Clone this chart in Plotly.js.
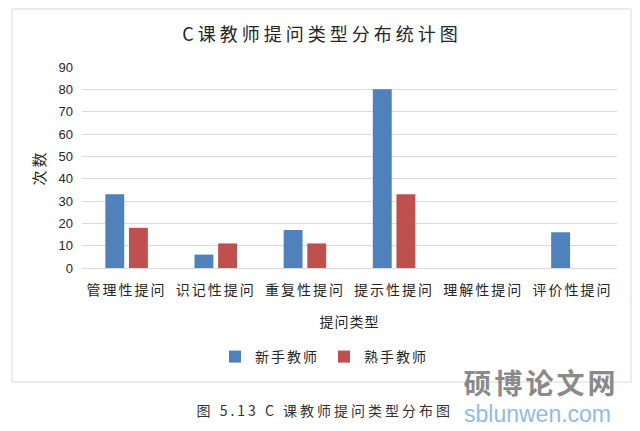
<!DOCTYPE html>
<html><head><meta charset="utf-8">
<script src="https://cdn.plot.ly/plotly-3.0.1.min.js"></script>
<style>
html,body{margin:0;padding:0;background:#fff;}
#chart{width:640px;height:431px;}
.gtitle{letter-spacing:4px;}
.xtick text{letter-spacing:2px;}
.legendtext{letter-spacing:2px;}
.g-xtitle text{letter-spacing:1px;}
.g-ytitle text{letter-spacing:3px;}
g.annotation[data-index="0"] text{letter-spacing:3px;}
g.annotation[data-index="1"] text{letter-spacing:3px;}
</style>
</head><body>
<div id="chart"></div>
<script>
const categories = ["管理性提问","识记性提问","重复性提问","提示性提问","理解性提问","评价性提问"];
const novice = [33, 6, 17, 80, 0, 16];
const expert = [18, 11, 11, 33, 0, 0];
const seriesNames = ["新手教师","熟手教师"];
const yTicks = [0,10,20,30,40,50,60,70,80,90];

const cjk = '"Noto Sans CJK SC", "Noto Sans", sans-serif';
const latin = '"Liberation Sans", Arial, sans-serif';

// plot area in pixels
const L = 82, R = 617, T = 67, B = 268;
const W = R - L, H = B - T;
const px = x => (x - L) / W;
const py = y => (B - y) / H;

const traces = [
  {type:'bar', name:seriesNames[0], x:categories, y:novice,
   marker:{color:'#4F81BD', line:{width:0}}},
  {type:'bar', name:seriesNames[1], x:categories, y:expert,
   marker:{color:'#C0504D', line:{width:0}}}
];

const layout = {
  width:640, height:431,
  margin:{l:L, r:640-R, t:T, b:431-B, pad:0},
  paper_bgcolor:'#fff', plot_bgcolor:'#fff',
  barmode:'group', bargap:0.47, bargroupgap:0.2,
  title:{text:'C课教师提问类型分布统计图', x:0.5+2/640, xanchor:'center', y:1-35/431, yanchor:'middle',
         font:{family:cjk, size:18, color:'#262626'}},
  xaxis:{type:'category', showgrid:false, zeroline:false, showline:false, ticks:'',
         ticklabelstandoff:12,
         tickfont:{family:cjk, size:14, color:'#262626'},
         title:{text:'提问类型', standoff:19, font:{family:cjk, size:14, color:'#262626'}}},
  yaxis:{range:[0,90], tickvals:yTicks, ticktext:yTicks.map(String), showgrid:true, gridcolor:'#D9D9D9', gridwidth:1,
         zeroline:true, zerolinecolor:'#D9D9D9', zerolinewidth:1, showline:false, ticks:'',
         ticklabelstandoff:8,
         tickfont:{family:latin, size:13, color:'#262626'},
         title:{text:'次数', standoff:9, font:{family:cjk, size:15, color:'#262626'}}},
  showlegend:true,
  legend:{orientation:'h', x:px(324), xanchor:'center', y:py(357), yanchor:'middle',
          font:{family:cjk, size:14, color:'#262626'}, itemwidth:30,
          tracegroupgap:0, bgcolor:'rgba(0,0,0,0)'},
  shapes:[
    {type:'rect', xref:'paper', yref:'paper', x0:px(12), x1:px(631), y0:py(382), y1:py(9),
     line:{color:'#D9D9D9', width:1}, fillcolor:'rgba(0,0,0,0)', layer:'below'}
  ],
  annotations:[
    {text:'图 5.13 C 课教师提问类型分布图', xref:'paper', yref:'paper', x:px(325), y:py(410),
     xanchor:'center', yanchor:'middle', showarrow:false,
     font:{family:cjk, size:14, color:'#333'}},
    {text:'<b>硕博论文网</b>', xref:'paper', yref:'paper', x:px(541), y:py(382),
     xanchor:'center', yanchor:'middle', showarrow:false,
     font:{family:cjk, size:28, color:'#8a8a8a'}},
    {text:'sblunwen.com', xref:'paper', yref:'paper', x:px(537), y:py(414),
     xanchor:'center', yanchor:'middle', showarrow:false,
     font:{family:latin, size:23, color:'#8FBCE8'}}
  ]
};

Plotly.newPlot('chart', traces, layout, {displayModeBar:false, staticPlot:true});
</script>
</body></html>
